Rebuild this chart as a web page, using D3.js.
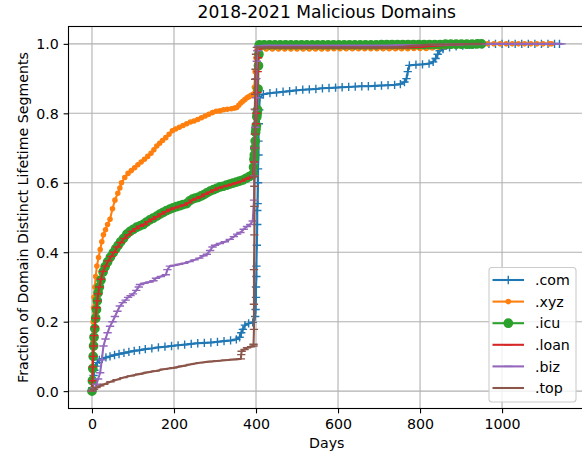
<!DOCTYPE html>
<html><head><meta charset="utf-8">
<script src="https://cdn.jsdelivr.net/npm/d3@7"></script>
<style>html,body{margin:0;padding:0;background:#fff;}svg{display:block;font-family:"DejaVu Sans",sans-serif;}</style>
</head><body><svg id="c" width="582" height="457"></svg>
<script>
const title = "2018-2021 Malicious Domains";
const xLabel = "Days";
const yLabel = "Fraction of Domain Distinct Lifetime Segments";
const xTicks = [0, 200, 400, 600, 800, 1000];
const yTicks = [0.0, 0.2, 0.4, 0.6, 0.8, 1.0];
const seriesNames = [".com", ".xyz", ".icu", ".loan", ".biz", ".top"];
const seriesColors = ["#1f77b4", "#ff7f0e", "#2ca02c", "#d62728", "#9467bd", "#8c564b"];
const seriesMarkers = ["plus", "point", "circle", "hline", "hline", "hline"];

const comData = [[0,0],[1,0.01],[2,0.025],[4,0.045],[6,0.06],[9,0.072],[13,0.082],[18,0.09],[25,0.093],[34,0.097],[44,0.1],[55,0.104],[66,0.107],[78,0.11],[90,0.113],[103,0.116],[116,0.118],[130,0.121],[146,0.123],[162,0.126],[178,0.128],[194,0.13],[210,0.132],[226,0.134],[242,0.136],[258,0.138],[274,0.139],[290,0.14],[306,0.142],[322,0.144],[338,0.146],[352,0.149],[360,0.155],[364,0.168],[368,0.178],[373,0.19],[382,0.195],[392,0.198],[398,0.215],[399,0.235],[400,0.27],[400,0.3],[401,0.33],[401,0.36],[402,0.42],[403,0.48],[403,0.52],[404,0.54],[405,0.6],[405,0.64],[406,0.68],[406,0.72],[407,0.77],[408,0.81],[409,0.845],[418,0.855],[434,0.858],[450,0.86],[466,0.862],[482,0.864],[498,0.866],[514,0.868],[530,0.869],[546,0.87],[562,0.872],[578,0.873],[594,0.874],[610,0.875],[626,0.876],[642,0.877],[658,0.878],[674,0.878],[690,0.879],[706,0.88],[722,0.881],[738,0.882],[752,0.884],[762,0.89],[767,0.9],[770,0.92],[774,0.938],[790,0.94],[806,0.941],[822,0.943],[832,0.948],[838,0.958],[843,0.97],[848,0.98],[856,0.985],[872,0.99],[888,0.993],[904,0.995],[920,0.997],[936,0.998],[952,0.999],[968,1],[984,1],[1000,1],[1016,1],[1032,1],[1048,1],[1064,1],[1080,1],[1096,1],[1112,1],[1128,1],[1140,1]];

const xyzData = [[0,0],[1,0.06],[2,0.14],[3,0.2],[4,0.24],[5,0.27],[7,0.3],[9,0.33],[12,0.36],[16,0.385],[20,0.408],[24,0.43],[28,0.45],[33,0.465],[38,0.48],[44,0.495],[50,0.525],[56,0.55],[63,0.57],[68,0.585],[72,0.6],[80,0.615],[88,0.627],[96,0.635],[104,0.643],[112,0.652],[120,0.66],[128,0.668],[136,0.676],[144,0.685],[151,0.695],[158,0.706],[165,0.714],[172,0.722],[180,0.73],[188,0.74],[196,0.75],[204,0.755],[213,0.76],[222,0.765],[231,0.77],[240,0.775],[249,0.778],[258,0.782],[267,0.787],[276,0.792],[285,0.797],[294,0.802],[303,0.806],[312,0.807],[321,0.81],[330,0.812],[340,0.813],[348,0.815],[353,0.817],[358,0.823],[363,0.83],[368,0.835],[373,0.84],[378,0.845],[383,0.848],[388,0.852],[393,0.855],[396,0.875],[398,0.92],[400,0.96],[403,0.98],[410,0.985],[425,0.985],[440,0.985],[455,0.985],[470,0.985],[485,0.985],[500,0.985],[515,0.985],[530,0.985],[545,0.985],[560,0.985],[575,0.985],[590,0.986],[605,0.986],[620,0.986],[635,0.986],[650,0.986],[665,0.986],[680,0.986],[695,0.986],[710,0.986],[725,0.986],[740,0.986],[755,0.986],[770,0.986],[785,0.987],[800,0.987],[815,0.987],[830,0.988],[845,0.99],[860,0.992],[875,0.994],[890,0.996],[905,0.997],[920,0.998],[935,0.999],[950,1],[965,1],[980,1],[995,1],[1010,1],[1025,1],[1040,1],[1055,1],[1070,1],[1085,1],[1100,1],[1115,1],[1121,1]];

const icuData = [[0,0],[1,0.03],[2,0.065],[3,0.1],[4,0.13],[5,0.155],[7,0.18],[9,0.21],[11,0.235],[13,0.26],[15,0.283],[18,0.3],[22,0.32],[27,0.343],[32,0.358],[38,0.372],[45,0.386],[52,0.399],[58,0.41],[64,0.42],[70,0.43],[77,0.44],[85,0.452],[93,0.46],[101,0.466],[109,0.472],[117,0.476],[125,0.48],[133,0.487],[141,0.493],[149,0.498],[158,0.504],[166,0.51],[174,0.515],[182,0.52],[190,0.524],[198,0.528],[206,0.531],[214,0.534],[222,0.537],[231,0.54],[238,0.548],[245,0.553],[252,0.556],[259,0.558],[266,0.562],[273,0.566],[280,0.571],[288,0.576],[296,0.58],[304,0.584],[312,0.588],[320,0.59],[328,0.593],[336,0.596],[344,0.599],[352,0.602],[360,0.605],[368,0.608],[376,0.613],[384,0.618],[390,0.622],[393,0.625],[394,0.645],[395,0.668],[396,0.68],[397,0.7],[398,0.72],[399,0.745],[400,0.755],[401,0.765],[402,0.79],[403,0.8],[404,0.81],[405,0.87],[406,0.937],[407,0.97],[408,0.997],[420,0.997],[433,0.997],[446,0.997],[459,0.997],[472,0.997],[485,0.997],[498,0.997],[511,0.997],[524,0.997],[537,0.997],[550,0.997],[563,0.997],[576,0.997],[589,0.997],[602,0.997],[615,0.997],[628,0.997],[641,0.997],[654,0.997],[667,0.997],[680,0.997],[693,0.997],[706,0.998],[719,0.998],[732,0.998],[745,0.998],[758,0.998],[771,0.998],[784,0.998],[797,0.998],[810,0.998],[823,0.998],[836,0.998],[849,0.998],[862,0.999],[875,0.999],[888,0.999],[901,0.999],[914,0.999],[927,0.999],[940,1],[950,1]];

const loanData = [[0,0],[1,0.03],[2,0.07],[3,0.1],[4,0.13],[5,0.16],[7,0.185],[9,0.21],[11,0.24],[13,0.26],[15,0.28],[18,0.3],[22,0.322],[27,0.345],[33,0.36],[40,0.375],[47,0.388],[54,0.4],[62,0.415],[70,0.428],[79,0.44],[88,0.45],[97,0.46],[107,0.468],[117,0.475],[127,0.48],[137,0.488],[147,0.495],[158,0.502],[169,0.51],[180,0.517],[191,0.523],[202,0.528],[213,0.532],[224,0.536],[235,0.542],[245,0.55],[255,0.555],[265,0.56],[276,0.567],[287,0.573],[298,0.579],[309,0.585],[320,0.589],[331,0.592],[342,0.596],[353,0.6],[364,0.604],[375,0.61],[385,0.615],[393,0.62],[395,0.66],[396,0.7],[398,0.74],[400,0.77],[401,0.8],[403,0.86],[404,0.92],[405,0.96],[406,0.985],[410,0.99],[440,0.99],[470,0.99],[500,0.99],[530,0.99],[560,0.99],[590,0.99],[620,0.99],[650,0.99],[680,0.99],[710,0.99],[740,0.99],[770,0.99],[800,0.991],[830,0.994],[860,0.996],[890,0.998],[910,1]];

const bizData = [[0,0],[3,0.005],[7,0.01],[11,0.02],[15,0.035],[20,0.053],[24,0.09],[28,0.13],[33,0.15],[38,0.168],[44,0.187],[50,0.2],[56,0.215],[62,0.23],[68,0.245],[75,0.255],[82,0.262],[88,0.27],[94,0.275],[100,0.28],[108,0.29],[114,0.3],[117,0.307],[128,0.311],[140,0.314],[150,0.318],[156,0.325],[168,0.33],[180,0.335],[184,0.35],[190,0.36],[200,0.362],[212,0.365],[225,0.368],[238,0.373],[250,0.378],[262,0.383],[272,0.39],[280,0.394],[288,0.405],[294,0.415],[300,0.42],[312,0.425],[324,0.43],[336,0.437],[346,0.445],[354,0.452],[362,0.457],[370,0.466],[378,0.474],[386,0.48],[392,0.49],[395,0.55],[396,0.62],[397,0.7],[398,0.76],[399,0.81],[400,0.845],[401,0.9],[402,0.95],[403,0.98],[405,0.993],[420,0.995],[445,0.995],[470,0.995],[495,0.995],[520,0.995],[545,0.995],[570,0.995],[595,0.995],[620,0.995],[645,0.995],[670,0.995],[695,0.995],[720,0.995],[745,0.996],[770,0.996],[795,0.996],[820,0.997],[845,0.997],[870,0.998],[895,0.998],[920,0.999],[945,0.999],[970,1],[1000,1],[1030,1],[1060,1],[1090,1],[1120,1],[1145,1]];

const topData = [[0,0],[5,0.005],[11,0.01],[20,0.015],[30,0.02],[45,0.027],[60,0.033],[77,0.039],[95,0.044],[115,0.049],[135,0.054],[155,0.058],[175,0.063],[198,0.067],[220,0.072],[240,0.077],[263,0.082],[285,0.085],[305,0.087],[325,0.089],[345,0.091],[363,0.093],[364,0.105],[365,0.115],[372,0.12],[378,0.125],[388,0.128],[394,0.13],[394,0.135],[395,0.178],[395,0.25],[395,0.35],[396,0.45],[396,0.532],[396,0.59],[396,0.618],[397,0.7],[397,0.74],[397,0.812],[398,0.855],[398,0.898],[399,0.927],[400,0.97],[402,0.99],[430,0.99],[460,0.99],[490,0.99],[520,0.99],[550,0.99],[580,0.99],[610,0.99],[640,0.99],[670,0.99],[700,0.99],[730,0.99],[760,0.992],[790,0.995],[820,0.997],[850,0.998],[880,0.998],[910,0.999],[930,1],[950,1]];

const allSeries = [comData, xyzData, icuData, loanData, bizData, topData];

const svg = d3.select("#c");
svg.append("rect").attr("width", 582).attr("height", 457).attr("fill", "#fff");

const L = 68.5, R = 585, T = 26.5, B = 408.5;
const x = d3.scaleLinear().domain([-57.25, 1202.25]).range([L, R]);
const y = d3.scaleLinear().domain([-0.05, 1.05]).range([B, T]);

svg.append("defs").append("clipPath").attr("id", "clip")
  .append("rect").attr("x", L).attr("y", T).attr("width", R - L).attr("height", B - T);

const grid = svg.append("g");
xTicks.forEach(t => grid.append("line").attr("x1", x(t)).attr("x2", x(t)).attr("y1", T).attr("y2", B)
  .attr("stroke", "#b0b0b0").attr("stroke-width", 1.1));
yTicks.forEach(t => grid.append("line").attr("x1", L).attr("x2", R).attr("y1", y(t)).attr("y2", y(t))
  .attr("stroke", "#b0b0b0").attr("stroke-width", 1.1));

function drawMarker(g, kind, cx, cy, color) {
  const h = 4.17;
  if (kind === "plus") {
    g.append("path").attr("d", `M${cx-h},${cy}h${2*h}M${cx},${cy-h}v${2*h}`)
      .attr("stroke", color).attr("stroke-width", 1.39).attr("fill", "none");
  } else if (kind === "hline") {
    g.append("path").attr("d", `M${cx-h},${cy}h${2*h}`)
      .attr("stroke", color).attr("stroke-width", 1.39).attr("fill", "none");
  } else if (kind === "point") {
    g.append("circle").attr("cx", cx).attr("cy", cy).attr("r", 2.08)
      .attr("fill", color).attr("stroke", color).attr("stroke-width", 1.39);
  } else if (kind === "circle") {
    g.append("circle").attr("cx", cx).attr("cy", cy).attr("r", 4.17)
      .attr("fill", color).attr("stroke", color).attr("stroke-width", 1.39);
  }
}

const plot = svg.append("g").attr("clip-path", "url(#clip)");
const line = d3.line().x(d => x(d[0])).y(d => y(d[1]));
allSeries.forEach((data, i) => {
  const g = plot.append("g");
  g.append("path").attr("d", line(data)).attr("fill", "none")
    .attr("stroke", seriesColors[i]).attr("stroke-width", 2.08).attr("stroke-linejoin", "round");
  data.forEach(d => drawMarker(g, seriesMarkers[i], x(d[0]), y(d[1]), seriesColors[i]));
});

const xAxis = d3.axisBottom(x).tickValues(xTicks).tickFormat(d3.format("d")).tickSizeInner(4.86).tickSizeOuter(0).tickPadding(4.86);
const yAxis = d3.axisLeft(y).tickValues(yTicks).tickFormat(d3.format(".1f")).tickSizeInner(4.86).tickSizeOuter(0).tickPadding(4.86);
const gx = svg.append("g").attr("transform", `translate(0,${B})`).call(xAxis);
const gy = svg.append("g").attr("transform", `translate(${L},0)`).call(yAxis);
[gx, gy].forEach(g => {
  g.select(".domain").remove();
  g.selectAll(".tick line").attr("stroke", "#000").attr("stroke-width", 1.1);
  g.selectAll(".tick text").attr("font-family", "DejaVu Sans").attr("font-size", 14.2).attr("fill", "#000");
});
gx.selectAll(".tick text").attr("dy", null).attr("y", 20);
gy.selectAll(".tick text").attr("dy", "0.36em");

svg.append("rect").attr("x", L).attr("y", T).attr("width", R - L).attr("height", B - T)
  .attr("fill", "none").attr("stroke", "#000").attr("stroke-width", 1.1);

svg.append("text").attr("x", (L + R) / 2).attr("y", 18).attr("text-anchor", "middle")
  .attr("font-size", 17.1).attr("fill", "#000").text(title);
svg.append("text").attr("x", (L + R) / 2).attr("y", 448).attr("text-anchor", "middle")
  .attr("font-size", 14.2).attr("fill", "#000").text(xLabel);
svg.append("text").attr("transform", `translate(27.5,${(T + B) / 2}) rotate(-90)`).attr("text-anchor", "middle")
  .attr("font-size", 14.2).attr("fill", "#000").text(yLabel);

const lg = svg.append("g");
lg.append("rect").attr("x", 489).attr("y", 267.5).attr("width", 87).attr("height", 134.5).attr("rx", 3)
  .attr("fill", "#fff").attr("fill-opacity", 0.8).attr("stroke", "#cccccc").attr("stroke-width", 1.1);
seriesNames.forEach((name, i) => {
  const ry = 280 + i * 21.6;
  lg.append("line").attr("x1", 492.5).attr("x2", 524).attr("y1", ry).attr("y2", ry)
    .attr("stroke", seriesColors[i]).attr("stroke-width", 2.08);
  drawMarker(lg, seriesMarkers[i], 508.3, ry, seriesColors[i]);
  lg.append("text").attr("x", 535).attr("y", ry).attr("dy", "0.36em").attr("font-size", 14.2)
    .attr("fill", "#000").text(name);
});
</script></body></html>
